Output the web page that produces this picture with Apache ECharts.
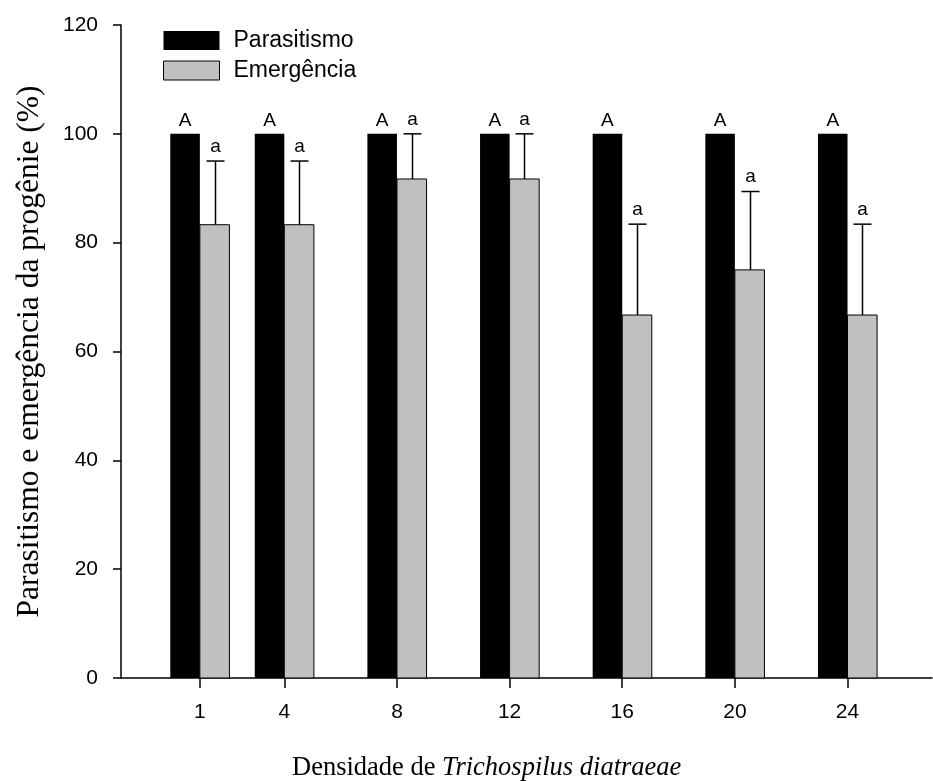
<!DOCTYPE html>
<html>
<head>
<meta charset="utf-8">
<script src="https://cdn.jsdelivr.net/npm/echarts@6/dist/echarts.min.js"></script>
<style>html,body{margin:0;padding:0;background:#fff}#c{width:933px;height:781px}</style>
</head>
<body>
<div id="c"></div>
<script>
// ---- data ----
const densidades = [1, 4, 8, 12, 16, 20, 24];
const parasitismo = [100, 100, 100, 100, 100, 100, 100];
const emergencia = [83.3, 83.3, 91.7, 91.7, 66.7, 75.0, 66.7];
const erroEmergencia = [11.7, 11.7, 8.3, 8.3, 16.7, 14.4, 16.7];
const letrasParasitismo = ['A', 'A', 'A', 'A', 'A', 'A', 'A'];
const letrasEmergencia = ['a', 'a', 'a', 'a', 'a', 'a', 'a'];
const yTicks = [0, 20, 40, 60, 80, 100, 120];

const BW = 1.05; // bar width in x-axis units
const SANS = 'Liberation Sans, Arial, sans-serif';
const SERIF = 'Liberation Serif, Times New Roman, serif';

const chart = echarts.init(document.getElementById('c'), null, {renderer: 'canvas'});

function barRender(side, fill, stroke, letters) {
  return function (params, api) {
    const x = api.value(0), y = api.value(1);
    const xa = side < 0 ? x - BW : x;
    const xb = side < 0 ? x : x + BW;
    const p0 = api.coord([xa, 0]);
    const p1 = api.coord([xb, y]);
    const children = [{
      type: 'rect',
      shape: {x: p0[0], y: p1[1], width: p1[0] - p0[0], height: p0[1] - p1[1]},
      style: {fill: fill, stroke: stroke, lineWidth: stroke ? 1 : 0}
    }];
    if (letters) {
      children.push({
        type: 'text',
        style: {text: letters[params.dataIndex], x: (p0[0] + p1[0]) / 2, y: p1[1] - 4,
          align: 'center', verticalAlign: 'bottom', font: '19px ' + SANS, fill: '#000'}
      });
    }
    return {type: 'group', children: children};
  };
}

function errRender(params, api) {
  const x = api.value(0), m = api.value(1), e = api.value(2);
  const pb = api.coord([x + BW / 2, m]);
  const pt = api.coord([x + BW / 2, m + e]);
  const cx = Math.round(pb[0]) + 0.5;
  return {type: 'group', children: [
    {type: 'line', shape: {x1: cx, y1: pb[1], x2: cx, y2: pt[1]}, style: {stroke: '#000', lineWidth: 1.5}},
    {type: 'line', shape: {x1: cx - 9, y1: pt[1], x2: cx + 9, y2: pt[1]}, style: {stroke: '#000', lineWidth: 1.5}},
    {type: 'text', style: {text: letrasEmergencia[params.dataIndex], x: cx, y: pt[1] - 5,
      align: 'center', verticalAlign: 'bottom', font: '19px ' + SANS, fill: '#000'}}
  ]};
}

const option = {
  animation: false,
  backgroundColor: '#fff',
  title: {
    text: '{n|Densidade de }{i|Trichospilus diatraeae}',
    left: 292, top: 755, padding: 0,
    textStyle: {rich: {
      n: {fontFamily: SERIF, fontSize: 26.5, fontWeight: 'normal', color: '#000'},
      i: {fontFamily: SERIF, fontSize: 26.5, fontWeight: 'normal', fontStyle: 'italic', color: '#000'}
    }}
  },
  legend: {
    orient: 'vertical', left: 163, top: 29, padding: 0,
    itemWidth: 56, itemHeight: 19, itemGap: 7, icon: 'rect',
    textStyle: {fontFamily: SANS, fontSize: 23, color: '#000', padding: [0, 0, 0, 9]},
    data: [
      {name: 'Parasitismo', itemStyle: {color: '#000', borderWidth: 0}},
      {name: 'Emergência', itemStyle: {color: '#c0c0c0', borderColor: '#000', borderWidth: 1}}
    ]
  },
  grid: {left: 121, right: 1, top: 25, bottom: 103, containLabel: false},
  xAxis: {
    type: 'value', min: -1.8, max: 27,
    splitLine: {show: false},
    axisLine: {show: true, onZero: true, lineStyle: {color: '#000', width: 1.5}},
    axisTick: {show: true, length: 10, lineStyle: {color: '#000', width: 1.5}, customValues: densidades},
    axisLabel: {show: true, margin: 24, fontFamily: SANS, fontSize: 21, color: '#000', customValues: densidades}
  },
  yAxis: {
    type: 'value', min: 0, max: 120, interval: 20,
    name: 'Parasitismo e emergência da progênie (%)',
    nameLocation: 'middle', nameGap: 75,
    nameTextStyle: {fontFamily: SERIF, fontSize: 31.5, color: '#000'},
    splitLine: {show: false},
    axisLine: {show: true, onZero: false, lineStyle: {color: '#000', width: 1.5}},
    axisTick: {show: true, length: 8, lineStyle: {color: '#000', width: 1.5}, customValues: yTicks},
    axisLabel: {margin: 23, fontFamily: SANS, fontSize: 21, color: '#000', customValues: yTicks}
  },
  series: [
    {
      name: 'Parasitismo', type: 'custom', renderItem: barRender(-1, '#000', null, letrasParasitismo),
      itemStyle: {color: '#000'},
      encode: {x: 0, y: 1},
      data: densidades.map((d, i) => [d, parasitismo[i]]),
      z: 2
    },
    {
      name: 'Emergência', type: 'custom', renderItem: barRender(1, '#c0c0c0', '#000', null),
      itemStyle: {color: '#c0c0c0', borderColor: '#000', borderWidth: 1},
      encode: {x: 0, y: 1},
      data: densidades.map((d, i) => [d, emergencia[i]]),
      z: 2
    },
    {
      name: 'erro', type: 'custom', renderItem: errRender,
      encode: {x: 0, y: [1, 2]},
      data: densidades.map((d, i) => [d, emergencia[i], erroEmergencia[i]]),
      z: 3
    }
  ]
};
chart.setOption(option);
</script>
</body>
</html>
